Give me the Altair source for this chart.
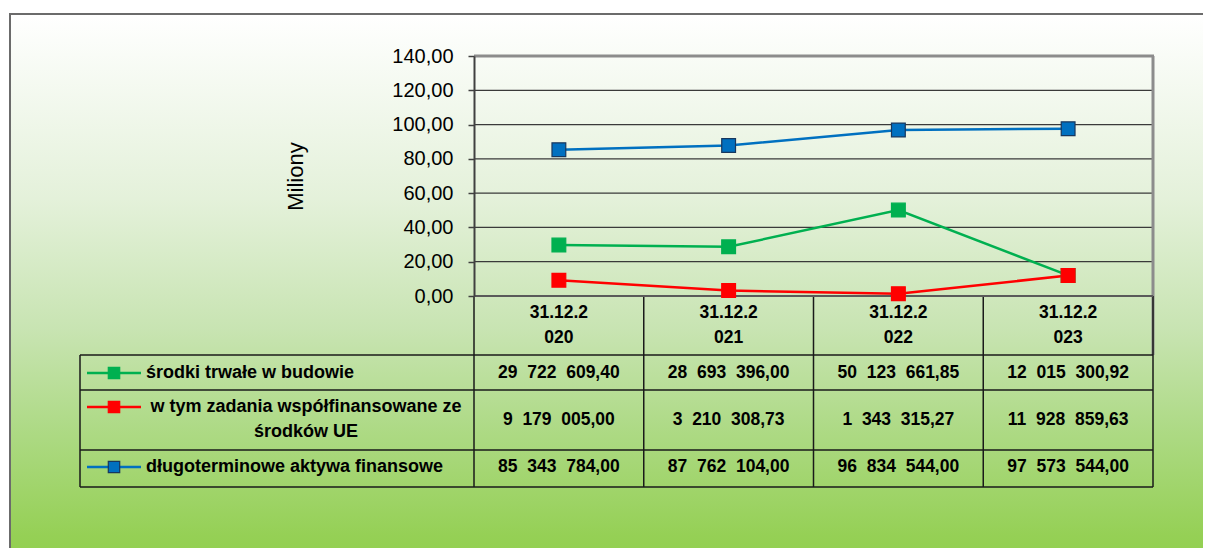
import altair as alt
import pandas as pd

# ---- data ----
dates = ["31.12.2020", "31.12.2021", "31.12.2022", "31.12.2023"]
series = [
    "środki trwałe w budowie",
    "w tym zadania współfinansowane ze\nśrodków UE",
    "długoterminowe aktywa finansowe",
]
s1_values = [29722609.40, 28693396.00, 50123661.85, 12015300.92]
s2_values = [9179005.00, 3210308.73, 1343315.27, 11928859.63]
s3_values = [85343784.00, 87762104.00, 96834544.00, 97573544.00]
colors = ["#00B050", "#FF0000", "#0070C0"]
marker_strokes = ["#00B050", "#FF0000", "#17375E"]
y_ticks = [0, 20, 40, 60, 80, 100, 120, 140]


def fmt(v):
    s = f"{v:,.2f}"
    return s.replace(",", "\u00a0\u00a0").replace(".", ",")


rows = []
for si, vals in enumerate([s1_values, s2_values, s3_values]):
    for d, v in zip(dates, vals):
        rows.append({
            "date": d,
            "header": d[:7] + "\n" + d[7:],
            "series": series[si],
            "idx": si,
            "mln": v / 1e6,
            "txt": fmt(v),
        })
df = pd.DataFrame(rows)

W, H = 679, 240
FONT = "Liberation Sans"
NFS = 17.5  # numbers font size
LFS = 18    # row label font size

yscale = alt.Scale(domain=[0, 140], nice=False)
yaxis = alt.Axis(values=y_ticks, grid=False, zindex=1,
                 labelExpr="replace(format(datum.value, '.2f'), '.', ',')",
                 labelFont=FONT, labelFontSize=20, labelColor="#000000",
                 labelOverlap=False, labelFlush=False, labelBound=False,
                 labelPadding=15, tickSize=6, tickColor="#404040", tickWidth=1.5,
                 domainColor="#404040", domainWidth=2,
                 title="Miliony", titleFont=FONT, titleFontSize=22,
                 titleFontWeight="normal", titleColor="#000000",
                 titleAngle=270, titleX=-179, titleY=120,
                 titleAlign="center", titleBaseline="middle")
xs = alt.X("date:N", scale=alt.Scale(type="point", domain=dates, padding=0.5), axis=None)
ys = alt.Y("mln:Q", scale=yscale, axis=yaxis, title="Miliony")
ty = alt.Y("t:Q", scale=yscale, axis=yaxis, title="Miliony")
color = alt.Color("series:N", scale=alt.Scale(domain=series, range=colors), legend=None)
stroke = alt.Stroke("series:N", scale=alt.Scale(domain=series, range=marker_strokes), legend=None)

one = pd.DataFrame({"a": [0]})
ticks_df = pd.DataFrame({"t": y_ticks})

# background frame with gradient
bg = alt.Chart(one).mark_rect(
    fill=alt.Gradient(gradient="linear",
                      stops=[alt.GradientStop(color="#FFFFFF", offset=0),
                             alt.GradientStop(color="#E4F1DA", offset=0.34),
                             alt.GradientStop(color="#C8E4B2", offset=0.58),
                             alt.GradientStop(color="#AEDA86", offset=0.76),
                             alt.GradientStop(color="#95D055", offset=0.96),
                             alt.GradientStop(color="#92D050", offset=1)],
                      x1=0, x2=0, y1=0, y2=1),
    stroke="#6B6B6B", strokeWidth=2,
).encode(x=alt.value(-464), x2=alt.value(760), y=alt.value(-42), y2=alt.value(502))

grid = alt.Chart(ticks_df).transform_filter("datum.t > 0 && datum.t < 140").mark_rule(
    color="#3A3A3A", strokeWidth=1.3
).encode(y=ty, x=alt.value(0), x2=alt.value(W))

top_border = alt.Chart(ticks_df).transform_filter("datum.t == 140").mark_rule(
    color="#8C8C8C", strokeWidth=3
).encode(y=ty, x=alt.value(0), x2=alt.value(W + 1))
zero_line = alt.Chart(ticks_df).transform_filter("datum.t == 0").mark_rule(
    color="#5A5A5A", strokeWidth=2
).encode(y=ty, x=alt.value(0), x2=alt.value(W))
right_border = alt.Chart(one).mark_rule(color="#8C8C8C", strokeWidth=3).encode(
    x=alt.value(W), y=alt.value(0), y2=alt.value(H + 59))

# table grid lines
col_bounds = [0, W / 4, W / 2, 3 * W / 4, W]
vlines = alt.layer(*[
    alt.Chart(one).mark_rule(color="#1A1A1A", strokeWidth=1.5).encode(
        x=alt.value(cx), y=alt.value(H), y2=alt.value(431))
    for cx in col_bounds
])
hlines = alt.layer(*[
    alt.Chart(one).mark_rule(color="#1A1A1A", strokeWidth=1.5).encode(
        x=alt.value(-394), x2=alt.value(W), y=alt.value(yy))
    for yy in [299, 334, 394, 431]
])
left_line = alt.Chart(one).mark_rule(color="#1A1A1A", strokeWidth=1.5).encode(
    x=alt.value(-394), y=alt.value(299), y2=alt.value(431))

# series
lines = alt.Chart(df).mark_line(strokeWidth=2.5).encode(x=xs, y=ys, color=color, detail="series:N")
pts = alt.Chart(df).mark_point(shape="square", filled=True, size=190, opacity=1).encode(
    x=xs, y=ys, color=color, stroke=stroke, strokeWidth=alt.value(1.2))

# header labels
header = alt.Chart(df).transform_filter("datum.idx == 0").mark_text(
    font=FONT, fontSize=NFS, fontWeight="bold", lineBreak="\n", lineHeight=25,
    baseline="middle", align="center", color="#000000"
).encode(x=xs, y=alt.value(257), text="header:N")

row_y = [317, 351, 411]
cells = alt.layer(*[
    alt.Chart(df).transform_filter(f"datum.idx == {i}").mark_text(
        font=FONT, fontSize=NFS, fontWeight="bold", baseline="middle", align="center", color="#000000"
    ).encode(x=xs, y=alt.value([317, 363.5, 411][i]), text="txt:N")
    for i in range(3)
])

labels_df = pd.DataFrame({"series": series, "idx": [0, 1, 2]})
key_layers = []
for i in range(3):
    sub = alt.Chart(labels_df).transform_filter(f"datum.idx == {i}")
    key_layers.append(sub.mark_rule(strokeWidth=2.5).encode(
        x=alt.value(-387), x2=alt.value(-333), y=alt.value(row_y[i]), color=color))
    key_layers.append(sub.mark_point(shape="square", filled=True, size=130, opacity=1, strokeWidth=1.2).encode(
        x=alt.value(-360), y=alt.value(row_y[i]), color=color, stroke=stroke))
    if i == 1:
        key_layers.append(sub.mark_text(
            font=FONT, fontSize=LFS, fontWeight="bold", lineBreak="\n", lineHeight=25,
            baseline="middle", align="center", color="#000000").encode(
            x=alt.value(-168), y=alt.value(row_y[i]), text="series:N"))
    else:
        key_layers.append(sub.mark_text(
            font=FONT, fontSize=LFS, fontWeight="bold",
            baseline="middle", align="left", color="#000000").encode(
            x=alt.value(-328), y=alt.value(row_y[i]), text="series:N"))

chart = alt.layer(
    bg, grid, top_border, right_border, vlines, hlines, left_line, zero_line,
    lines, pts, header, cells, *key_layers,
).resolve_scale(color="shared", stroke="shared").properties(
    width=W, height=H,
    padding={"left": 466, "top": 48, "right": 50, "bottom": 252},
    autosize=alt.AutoSizeParams(type="none"),
).configure_view(stroke=None).configure_axis(labelOverlap=False)

chart.save("out.html", embed_options={"renderer": "svg", "actions": False})
